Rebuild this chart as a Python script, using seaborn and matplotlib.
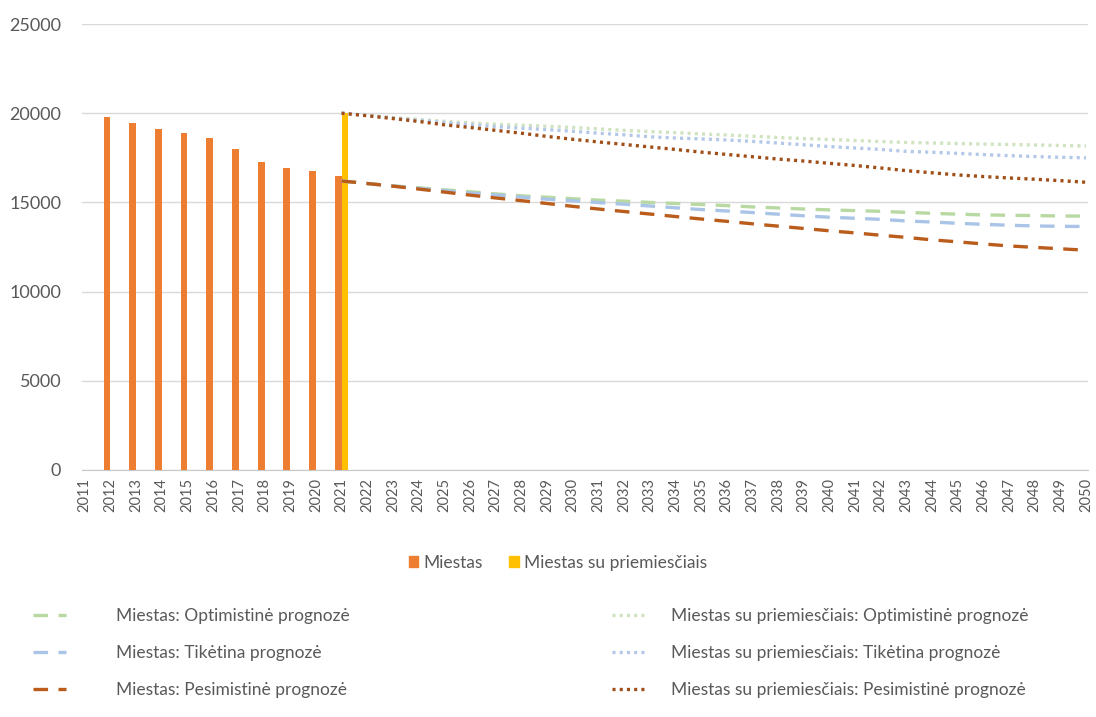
import numpy as np
import pandas as pd
import matplotlib
matplotlib.use("Agg")
import matplotlib.pyplot as plt
import seaborn as sns
from matplotlib.lines import Line2D
from matplotlib.patches import Patch

# ==========================================
# Data
# ==========================================
years = list(range(2011, 2051))

# bars: Miestas 2012-2021, Miestas su priemiesčiais only 2021
bar_years_miestas = list(range(2012, 2022))
bar_miestas = [19780, 19460, 19120, 18880, 18620, 18000, 17290, 16930, 16780, 16500]
bar_years_msp = [2021]
bar_msp = [20000]

# forecasts 2021-2050
fc_years = list(range(2021, 2051))
miestas_opt = [16200, 16060, 15930, 15820, 15710, 15600, 15480, 15370, 15290, 15210,
               15130, 15070, 15000, 14940, 14880, 14820, 14750, 14690, 14630, 14580,
               14540, 14500, 14440, 14390, 14340, 14300, 14280, 14260, 14240, 14230]
miestas_tik = [16200, 16060, 15920, 15790, 15660, 15530, 15420, 15300, 15180, 15090,
               14990, 14900, 14800, 14700, 14600, 14520, 14430, 14340, 14250, 14170,
               14110, 14050, 13960, 13900, 13830, 13770, 13720, 13680, 13660, 13650]
miestas_pes = [16200, 16060, 15910, 15750, 15580, 15410, 15250, 15100, 14940, 14780,
               14630, 14490, 14350, 14210, 14070, 13940, 13800, 13670, 13540, 13410,
               13290, 13160, 13040, 12900, 12790, 12670, 12560, 12480, 12400, 12320]
msp_opt = [20000, 19880, 19760, 19650, 19550, 19460, 19380, 19330, 19270, 19200,
           19120, 19040, 18970, 18910, 18840, 18780, 18710, 18640, 18580, 18530,
           18470, 18410, 18360, 18330, 18300, 18270, 18250, 18220, 18190, 18160]
msp_tik = [20000, 19870, 19730, 19600, 19480, 19360, 19250, 19160, 19080, 18990,
           18880, 18790, 18680, 18610, 18560, 18500, 18420, 18330, 18230, 18130,
           18050, 17970, 17860, 17810, 17750, 17680, 17620, 17570, 17530, 17500]
msp_pes = [20000, 19860, 19700, 19540, 19350, 19200, 19040, 18880, 18700, 18540,
           18390, 18250, 18110, 17970, 17820, 17690, 17560, 17430, 17320, 17190,
           17070, 16930, 16780, 16660, 16540, 16450, 16370, 16300, 16220, 16130]

# ==========================================
# Styling
# ==========================================
sns.set_style("white")
plt.rcParams['font.family'] = ['Lato', 'DejaVu Sans']
plt.rcParams['lines.scale_dashes'] = False
TXT = "#595959"
GRID = "#D9D9D9"

C_ORANGE = "#ED7D31"
C_YELLOW = "#FFC000"

DASH = (10.5, 7.5)
DOT = (2.2, 3.0)
line_specs = [
    ("Miestas: Optimistinė prognozė", miestas_opt, "#B9D9A3", DASH),
    ("Miestas: Tikėtina prognozė", miestas_tik, "#A9C4E6", DASH),
    ("Miestas: Pesimistinė prognozė", miestas_pes, "#B95C1C", DASH),
    ("Miestas su priemiesčiais: Optimistinė prognozė", msp_opt, "#CFE3C0", DOT),
    ("Miestas su priemiesčiais: Tikėtina prognozė", msp_tik, "#B3C8E8", DOT),
    ("Miestas su priemiesčiais: Pesimistinė prognozė", msp_pes, "#A04E18", DOT),
]

fig = plt.figure(figsize=(10.96, 7.17), dpi=100)
ax = fig.add_axes([0.0748, 0.3445, 0.918, 0.622])

# bars via seaborn (categorical, dodged by hue)
bar_df = pd.concat([
    pd.DataFrame({"year": [str(y) for y in bar_years_miestas], "value": bar_miestas,
                  "series": "Miestas"}),
    pd.DataFrame({"year": [str(y) for y in bar_years_msp], "value": bar_msp,
                  "series": "Miestas su priemiesčiais"}),
])
sns.barplot(data=bar_df, x="year", y="value", hue="series",
            order=[str(y) for y in years],
            hue_order=["Miestas", "Miestas su priemiesčiais"],
            palette=[C_ORANGE, C_YELLOW], saturation=1, width=0.54, gap=0,
            errorbar=None, legend=False, ax=ax, zorder=3, linewidth=0)

# forecast lines on the same category positions
fc_pos = [y - years[0] for y in fc_years]
for label, vals, color, dash in line_specs:
    sns.lineplot(x=fc_pos, y=vals, color=color, linewidth=2.4, ax=ax,
                 dashes=False, zorder=4).lines[-1].set_dashes(dash)

# axes
ax.set_ylim(0, 25000)
ax.set_xlim(-0.11, 39.08)
ax.set_yticks(range(0, 25001, 5000))
ax.set_xticks(range(len(years)))
ax.set_xticklabels([str(y) for y in years], rotation=90)
ax.tick_params(axis='x', colors=TXT, labelsize=10.5, length=0, pad=6)
ax.tick_params(axis='y', colors=TXT, labelsize=13, length=0, pad=15)
ax.yaxis.grid(True, color=GRID, linewidth=1)
ax.set_axisbelow(True)
for s in ["top", "right", "left"]:
    ax.spines[s].set_visible(False)
ax.spines["bottom"].set_color("#C8C8C8")
ax.set_xlabel("")
ax.set_ylabel("")

# legends
FS = 12.5
bar_handles = [Patch(color=C_ORANGE, label="Miestas"),
               Patch(color=C_YELLOW, label="Miestas su priemiesčiais")]
fig.legend(handles=bar_handles, loc="center", bbox_to_anchor=(0.509, 0.215),
           ncol=2, frameon=False, fontsize=FS, handlelength=0.55,
           handleheight=0.55, handletextpad=0.3, columnspacing=1.5,
           labelcolor=TXT)

def line_handle(color, dash):
    h = Line2D([0], [0], color=color, linewidth=2.4)
    h.set_dashes(dash)
    return h

left_h = [line_handle(c, d) for _, _, c, d in line_specs[:3]]
right_h = [line_handle(c, d) for _, _, c, d in line_specs[3:]]
kw = dict(frameon=False, fontsize=FS, handlelength=1.9, labelspacing=1.22,
          labelcolor=TXT, borderpad=0, borderaxespad=0)
fig.legend(handles=left_h, labels=[s[0] for s in line_specs[:3]], loc="center left",
           bbox_to_anchor=(33 / 1096, 0.0895), handletextpad=2.9, **kw)
fig.legend(handles=right_h, labels=[s[0] for s in line_specs[3:]], loc="center left",
           bbox_to_anchor=(612 / 1096, 0.0895), handletextpad=1.5, **kw)

fig.savefig("out.png", dpi=100)
